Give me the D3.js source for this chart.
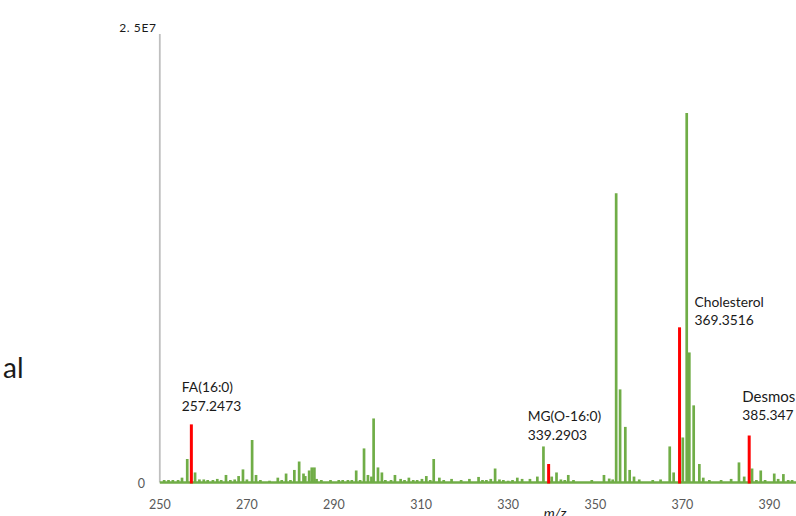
<!DOCTYPE html>
<html>
<head>
<meta charset="utf-8">
<script src="https://cdn.jsdelivr.net/npm/d3@7"></script>
<style>
  html, body { margin: 0; padding: 0; background: #fff; overflow: hidden; }
  svg { display: block; }
  text { font-family: Lato, "Open Sans", sans-serif; }
</style>
</head>
<body>
<svg id="chart" width="796" height="516"></svg>
<script>
// ---- data (m/z, intensity in millions) ----
const greenMz = [251.0,252.0,253.0,254.2,255.1,256.3,258.1,259.1,260.1,261.0,262.2,263.2,264.1,265.2,266.2,267.2,268.1,269.1,270.0,271.2,272.1,273.1,275.2,277.1,278.0,279.0,280.0,280.9,282.0,283.0,283.4,284.3,284.9,285.5,286.0,287.1,289.2,291.1,292.0,293.2,294.1,295.1,296.0,296.9,297.8,298.6,299.1,300.1,301.0,301.8,303.1,304.0,305.3,306.2,307.2,308.2,309.1,310.2,311.2,312.1,312.9,314.2,315.2,317.0,319.2,321.1,323.2,324.1,325.0,326.0,327.0,328.0,328.9,330.0,331.0,332.1,333.2,335.0,336.7,338.1,340.0,341.1,342.1,343.0,343.8,345.0,349.2,352.0,353.2,354.0,354.8,355.7,356.9,357.9,358.9,360.1,363.2,365.0,367.1,368.0,370.1,371.0,371.6,372.6,373.9,374.8,376.2,378.9,381.2,383.0,384.2,386.0,387.0,388.0,389.0,391.1,392.0,393.2,394.3,395.2];
const greenInt = [0.14,0.14,0.14,0.14,0.27,1.31,0.56,0.17,0.17,0.14,0.14,0.2,0.14,0.42,0.14,0.17,0.36,0.73,0.17,2.37,0.42,0.14,0.1,0.27,0.14,0.5,0.14,0.7,1.17,0.5,0.36,0.67,0.84,0.84,0.2,0.14,0.14,0.14,0.14,0.14,0.14,0.67,0.14,1.9,0.42,0.33,3.57,0.84,0.56,0.14,0.14,0.42,0.2,0.14,0.27,0.14,0.14,0.2,0.36,0.14,1.31,0.27,0.14,0.2,0.14,0.2,0.31,0.14,0.14,0.2,0.78,0.17,0.14,0.1,0.14,0.27,0.2,0.2,0.33,2.01,0.33,0.56,0.17,0.14,0.42,0.14,0.14,0.42,0.22,0.17,16.13,5.19,3.1,0.7,0.33,0.17,0.14,0.17,2.01,0.56,2.51,20.59,7.25,4.3,1.03,0.27,0.14,0.14,0.2,1.12,0.33,0.78,0.14,0.67,0.14,0.5,0.2,0.47,0.14,0.14];

const redMz  = [257.2473, 339.2903, 369.3516, 385.347];
const redInt = [3.24, 1.03, 8.65, 2.62];
const redName = ["FA(16:0)", "MG(O-16:0)", "Cholesterol", "Desmos"];
const redLabel = ["257.2473", "339.2903", "369.3516", "385.347"];

const xTicks = [250, 270, 290, 310, 330, 350, 370, 390];
const yTickLabels = ["0", "2. 5E7"];
const xTitle = "m/z";
const sideText = "al";

// ---- layout ----
const svg = d3.select("#chart");
const x = d3.scaleLinear().domain([250, 400]).range([159.8, 813]);
const y = d3.scaleLinear().domain([0, 25]).range([482.5, 34]);

// y axis line
svg.append("line")
  .attr("x1", x(250)).attr("x2", x(250))
  .attr("y1", y(25)).attr("y2", y(0))
  .attr("stroke", "#bfbfbf").attr("stroke-width", 1.8);

// y labels
svg.append("text").attr("x", 145).attr("y", y(0) + 5)
  .attr("text-anchor", "end").attr("font-size", 12.5).attr("fill", "#595959")
  .text(yTickLabels[0]);
svg.append("text").attr("x", 156.5).attr("y", y(25) - 2.5)
  .attr("text-anchor", "end").attr("font-size", 12).attr("letter-spacing", 0.6)
  .attr("fill", "#1a1a1a")
  .text(yTickLabels[1]);

// x tick labels
svg.append("g").selectAll("text").data(xTicks).join("text")
  .attr("x", d => x(d)).attr("y", 509)
  .attr("text-anchor", "middle").attr("font-size", 12.5).attr("fill", "#595959")
  .text(d => d);

// green baseline
svg.append("line")
  .attr("x1", x(250)).attr("x2", 796)
  .attr("y1", y(0)).attr("y2", y(0))
  .attr("stroke", "#70ad47").attr("stroke-width", 2.6);

// green bars
svg.append("g").selectAll("line").data(greenMz).join("line")
  .attr("x1", d => x(d)).attr("x2", d => x(d))
  .attr("y1", y(0)).attr("y2", (d, i) => y(greenInt[i]))
  .attr("stroke", "#70ad47").attr("stroke-width", 2.7);

// red bars
svg.append("g").selectAll("line").data(redMz).join("line")
  .attr("x1", d => x(d)).attr("x2", d => x(d))
  .attr("y1", y(0) + 1).attr("y2", (d, i) => y(redInt[i]))
  .attr("stroke", "#ff0000").attr("stroke-width", 3);

// annotations (offsets relative to peak)
const labelDx = [-9.5, -21, 15, -7];
const labelTop = [392, 421, 306.5, 401.5];
const labelSize = [13.8, 13.8, 13.8, 15];
redMz.forEach((mz, i) => {
  const t = svg.append("text")
    .attr("x", x(mz) + labelDx[i]).attr("y", labelTop[i])
    .attr("font-size", 13.8).attr("fill", "#1a1a1a");
  t.append("tspan").attr("x", x(mz) + labelDx[i]).attr("font-size", labelSize[i]).text(redName[i]);
  t.append("tspan").attr("x", x(mz) + labelDx[i]).attr("dy", 18.5).text(redLabel[i]);
});

// x axis title
svg.append("text").attr("x", 555).attr("y", 518)
  .attr("text-anchor", "middle").attr("font-size", 14).attr("font-style", "italic")
  .attr("fill", "#1a1a1a").text(xTitle);

// cropped side text
svg.append("text").attr("x", 23.5).attr("y", 378)
  .attr("text-anchor", "end").attr("font-size", 28).attr("fill", "#1a1a1a")
  .text(sideText);
</script>
</body>
</html>
